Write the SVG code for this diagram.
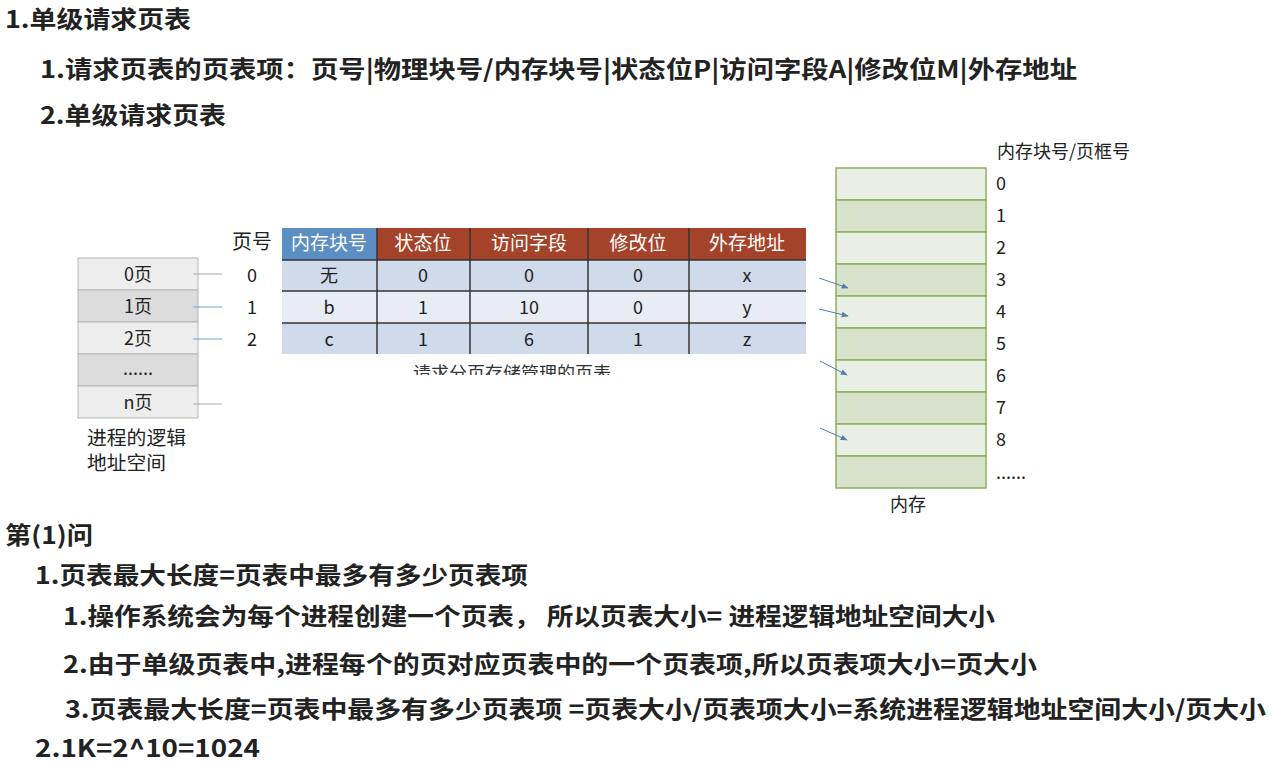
<svg xmlns="http://www.w3.org/2000/svg" width="1272" height="766" viewBox="0 0 1272 766">
<style>
.h{font-family:"Noto Sans CJK SC","Liberation Sans",sans-serif;font-weight:bold;font-size:24px;fill:#222}
.t{font-family:"Noto Sans CJK SC","Liberation Sans",sans-serif;font-size:18px;fill:#222}
.th{font-family:"Noto Sans CJK SC","Liberation Sans",sans-serif;font-size:19px;fill:#fff}
.big{font-size:20px}
.proc{font-size:19px}
.sep{stroke:#333;stroke-width:1.5}
.mem{stroke:#8fb05a;stroke-width:1.5}
.lp{stroke:#aaa;stroke-width:1}
.conn{stroke:#4f7fb0;stroke-width:1;fill:none}
</style>
<defs>
<marker id="ah" viewBox="0 0 10 10" refX="9" refY="5" markerWidth="7" markerHeight="7" orient="auto"><path d="M0,1 L10,5 L0,9 z" fill="#4f7fb0"/></marker>
<clipPath id="capclip"><rect x="300" y="355" width="400" height="20"/></clipPath>
</defs>
<rect width="1272" height="766" fill="#fff"/>

<g id="headings">
<text class="h" x="5" y="28" textLength="186" lengthAdjust="spacingAndGlyphs">1.单级请求页表</text>
<text class="h" x="40" y="78" textLength="1037" lengthAdjust="spacingAndGlyphs">1.请求页表的页表项：页号|物理块号/内存块号|状态位P|访问字段A|修改位M|外存地址</text>
<text class="h" x="40" y="124" textLength="186" lengthAdjust="spacingAndGlyphs">2.单级请求页表</text>
</g>

<g id="logical-space">
<rect x="78" y="258" width="120" height="32" fill="#ededed" stroke="#b5b5b5"/>
<rect x="78" y="290" width="120" height="32" fill="#dcdcdc" stroke="#b5b5b5"/>
<rect x="78" y="322" width="120" height="32" fill="#ededed" stroke="#b5b5b5"/>
<rect x="78" y="354" width="120" height="32" fill="#dcdcdc" stroke="#b5b5b5"/>
<rect x="78" y="386" width="120" height="32" fill="#ededed" stroke="#b5b5b5"/>
<text class="t" x="138" y="281" text-anchor="middle">0页</text>
<text class="t" x="138" y="313" text-anchor="middle">1页</text>
<text class="t" x="138" y="345" text-anchor="middle">2页</text>
<text class="t" x="138" y="375" text-anchor="middle">......</text>
<text class="t" x="138" y="409" text-anchor="middle">n页</text>
<text class="t proc" x="87" y="445" textLength="99" lengthAdjust="spacingAndGlyphs">进程的逻辑</text>
<text class="t proc" x="87" y="470" textLength="79" lengthAdjust="spacingAndGlyphs">地址空间</text>
</g>

<g id="page-table">
<text class="t big" x="232" y="249">页号</text>
<text class="t" x="252" y="282" text-anchor="middle">0</text>
<text class="t" x="252" y="314" text-anchor="middle">1</text>
<text class="t" x="252" y="346" text-anchor="middle">2</text>
<rect x="282" y="228" width="95" height="32" fill="#5b8fc4"/>
<rect x="377" y="228" width="429" height="32" fill="#a5432a"/>
<rect x="282" y="260" width="524" height="31" fill="#cfdaea"/>
<rect x="282" y="291" width="524" height="32" fill="#e8edf5"/>
<rect x="282" y="323" width="524" height="31" fill="#cfdaea"/>
<line class="sep" x1="282" y1="260" x2="806" y2="260"/>
<line class="sep" x1="282" y1="291" x2="806" y2="291"/>
<line class="sep" x1="282" y1="323" x2="806" y2="323"/>
<line class="sep" x1="377" y1="228" x2="377" y2="354"/>
<line class="sep" x1="470" y1="228" x2="470" y2="354"/>
<line class="sep" x1="588" y1="228" x2="588" y2="354"/>
<line class="sep" x1="689" y1="228" x2="689" y2="354"/>
<text class="th" x="329" y="250" text-anchor="middle">内存块号</text>
<text class="th" x="423" y="250" text-anchor="middle">状态位</text>
<text class="th" x="529" y="250" text-anchor="middle">访问字段</text>
<text class="th" x="638" y="250" text-anchor="middle">修改位</text>
<text class="th" x="747" y="250" text-anchor="middle">外存地址</text>
<text class="t" x="329" y="282" text-anchor="middle">无</text>
<text class="t" x="423" y="282" text-anchor="middle">0</text>
<text class="t" x="529" y="282" text-anchor="middle">0</text>
<text class="t" x="638" y="282" text-anchor="middle">0</text>
<text class="t" x="747" y="282" text-anchor="middle">x</text>
<text class="t" x="329" y="314" text-anchor="middle">b</text>
<text class="t" x="423" y="314" text-anchor="middle">1</text>
<text class="t" x="529" y="314" text-anchor="middle">10</text>
<text class="t" x="638" y="314" text-anchor="middle">0</text>
<text class="t" x="747" y="314" text-anchor="middle">y</text>
<text class="t" x="329" y="346" text-anchor="middle">c</text>
<text class="t" x="423" y="346" text-anchor="middle">1</text>
<text class="t" x="529" y="346" text-anchor="middle">6</text>
<text class="t" x="638" y="346" text-anchor="middle">1</text>
<text class="t" x="747" y="346" text-anchor="middle">z</text>
<text class="t" x="413" y="380" clip-path="url(#capclip)" style="fill:#333">请求分页存储管理的页表..</text>
</g>

<g id="memory">
<text class="t" x="997" y="158">内存块号/页框号</text>
<rect x="836" y="168" width="150" height="32" fill="#e9efe4" class="mem"/>
<rect x="836" y="200" width="150" height="32" fill="#d7e3cd" class="mem"/>
<rect x="836" y="232" width="150" height="32" fill="#e9efe4" class="mem"/>
<rect x="836" y="264" width="150" height="32" fill="#d7e3cd" class="mem"/>
<rect x="836" y="296" width="150" height="32" fill="#e9efe4" class="mem"/>
<rect x="836" y="328" width="150" height="32" fill="#d7e3cd" class="mem"/>
<rect x="836" y="360" width="150" height="32" fill="#e9efe4" class="mem"/>
<rect x="836" y="392" width="150" height="32" fill="#d7e3cd" class="mem"/>
<rect x="836" y="424" width="150" height="32" fill="#e9efe4" class="mem"/>
<rect x="836" y="456" width="150" height="32" fill="#d7e3cd" class="mem"/>
<text class="t" x="996" y="190">0</text>
<text class="t" x="996" y="222">1</text>
<text class="t" x="996" y="254">2</text>
<text class="t" x="996" y="286">3</text>
<text class="t" x="996" y="318">4</text>
<text class="t" x="996" y="350">5</text>
<text class="t" x="996" y="382">6</text>
<text class="t" x="996" y="414">7</text>
<text class="t" x="996" y="446">8</text>
<text class="t" x="996" y="479">......</text>
<text class="t" x="908" y="511" text-anchor="middle">内存</text>
</g>

<g id="connectors">
<line class="lp" x1="193" y1="274" x2="222" y2="274"/>
<line x1="193" y1="307" x2="222" y2="307" stroke="#6fa3d6" stroke-width="1"/>
<line x1="193" y1="339" x2="222" y2="339" stroke="#6fa3d6" stroke-width="1"/>
<line class="lp" x1="193" y1="404" x2="222" y2="404"/>
<line class="conn" x1="819" y1="278" x2="848" y2="288" marker-end="url(#ah)"/>
<line class="conn" x1="819" y1="309" x2="848" y2="316" marker-end="url(#ah)"/>
<line class="conn" x1="820" y1="361" x2="847" y2="375" marker-end="url(#ah)"/>
<line class="conn" x1="820" y1="428" x2="847" y2="440" marker-end="url(#ah)"/>
</g>

<g id="answer">
<text class="h" x="5" y="544" textLength="88" lengthAdjust="spacingAndGlyphs">第(1)问</text>
<text class="h" x="35" y="584" textLength="493" lengthAdjust="spacingAndGlyphs">1.页表最大长度=页表中最多有多少页表项</text>
<text class="h" x="63" y="625" textLength="932" lengthAdjust="spacingAndGlyphs">1.操作系统会为每个进程创建一个页表， 所以页表大小= 进程逻辑地址空间大小</text>
<text class="h" x="63" y="673" textLength="974" lengthAdjust="spacingAndGlyphs">2.由于单级页表中,进程每个的页对应页表中的一个页表项,所以页表项大小=页大小</text>
<text class="h" x="65" y="718" textLength="1201" lengthAdjust="spacingAndGlyphs">3.页表最大长度=页表中最多有多少页表项 =页表大小/页表项大小=系统进程逻辑地址空间大小/页大小</text>
<text class="h" x="35" y="757" textLength="225" lengthAdjust="spacingAndGlyphs">2.1K=2^10=1024</text>
</g>
</svg>
